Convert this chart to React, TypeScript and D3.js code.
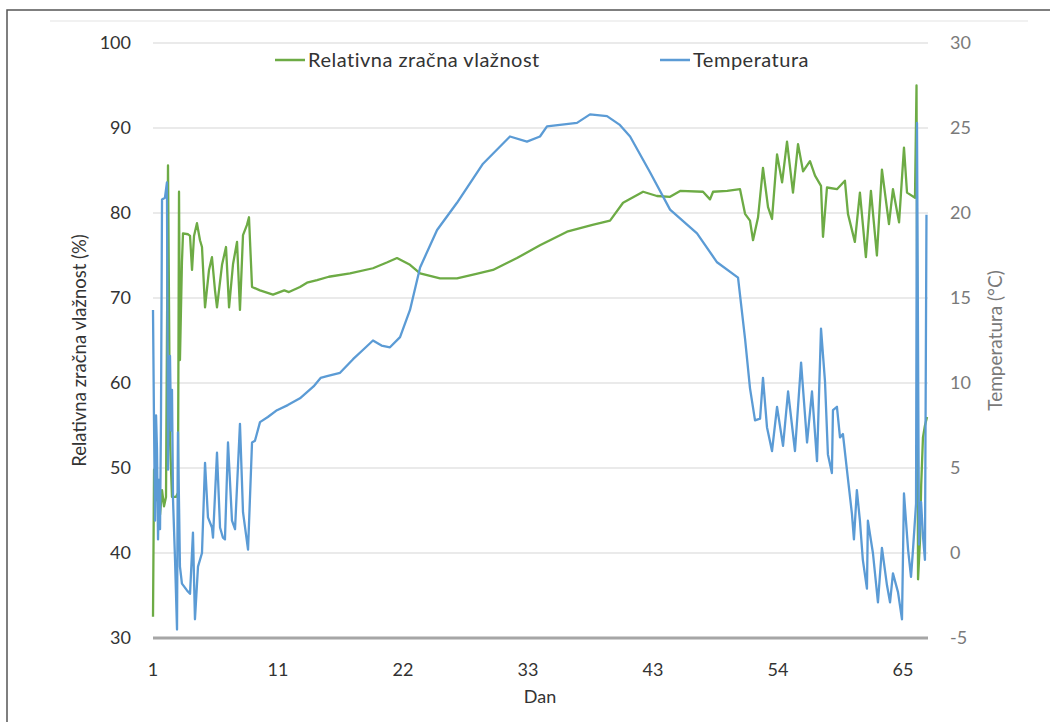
import React from "react";
import * as d3 from "d3";

// relativna vlažnost [dan, %]
const humidity: [number, number][] = [
  [1.0, 32.5], [1.09, 49.8], [1.26, 46.2], [1.43, 48.6], [1.6, 44.5], [1.77, 47.4],
  [1.94, 45.5], [2.11, 46.6], [2.28, 85.6], [2.45, 53.3], [2.62, 46.6], [2.96, 46.6],
  [3.13, 47.1], [3.22, 82.5], [3.3, 62.7], [3.47, 74.2], [3.56, 77.6], [3.99, 77.5],
  [4.16, 77.3], [4.33, 73.3], [4.5, 77.3], [4.75, 78.8], [5.01, 76.8], [5.18, 76.0],
  [5.44, 68.9], [5.78, 73.3], [6.03, 74.8], [6.29, 70.9], [6.46, 68.9], [6.89, 73.9],
  [7.23, 76.0], [7.49, 68.9], [7.83, 74.0], [8.17, 76.6], [8.42, 68.6], [8.68, 77.4],
  [9.02, 78.6], [9.19, 79.5], [9.45, 71.3], [10.13, 70.9], [11.24, 70.4], [12.2, 70.9],
  [12.6, 70.7], [13.54, 71.3], [14.14, 71.8], [15.0, 72.1], [16.0, 72.5], [17.81, 72.9],
  [19.77, 73.5], [21.0, 74.2], [21.82, 74.7], [22.93, 73.9], [23.79, 72.9], [25.49, 72.3],
  [26.94, 72.3], [28.5, 72.8], [30.01, 73.3], [32.06, 74.7], [34.02, 76.2], [36.33, 77.8],
  [38.5, 78.6], [40.0, 79.1], [41.11, 81.2], [42.82, 82.5], [44.0, 82.0], [45.12, 81.9],
  [45.98, 82.6], [47.93, 82.5], [48.53, 81.6], [48.79, 82.5], [50.0, 82.6], [51.09, 82.8],
  [51.52, 79.9], [51.94, 79.1], [52.2, 76.8], [52.63, 79.5], [53.05, 85.3], [53.48, 80.7],
  [53.82, 79.3], [54.25, 86.9], [54.68, 83.6], [55.1, 88.4], [55.61, 82.4], [56.04, 88.1],
  [56.47, 84.9], [57.06, 86.1], [57.49, 84.4], [58.0, 83.2], [58.17, 77.2], [58.51, 83.0],
  [59.36, 82.8], [60.04, 83.8], [60.3, 79.9], [60.89, 76.6], [61.32, 82.4], [61.83, 74.8],
  [62.26, 82.6], [62.77, 75.0], [63.2, 85.1], [63.8, 78.7], [64.14, 82.8], [64.66, 78.9],
  [65.08, 87.7], [65.34, 82.4], [66.02, 81.8], [66.15, 95.0], [66.28, 36.9], [66.45, 41.6],
  [66.55, 48.0], [66.7, 53.6], [66.87, 55.0], [67.05, 56.0],
];

// temperatura [dan, °C]
const temperature: [number, number][] = [
  [1.0, 14.3], [1.085, 7.8], [1.17, 1.9], [1.26, 8.1], [1.34, 6.1], [1.43, 0.8],
  [1.51, 4.3], [1.6, 1.4], [1.68, 7.8], [1.77, 20.8], [2.02, 20.9], [2.19, 21.8],
  [2.28, 4.9], [2.37, 11.4], [2.45, 11.6], [2.54, 7.2], [2.62, 9.6], [2.71, 3.1],
  [2.88, -0.4], [3.05, -4.5], [3.13, 7.1], [3.3, -0.8], [3.47, -1.8], [3.9, -2.2],
  [4.16, -2.4], [4.41, 1.2], [4.58, -3.9], [4.84, -0.8], [5.18, 0.0], [5.44, 5.3],
  [5.69, 2.1], [6.03, 1.5], [6.12, 0.9], [6.46, 5.9], [6.72, 1.5], [6.97, 0.9],
  [7.14, 0.8], [7.4, 6.5], [7.74, 1.9], [8.0, 1.4], [8.42, 7.6], [8.68, 2.4],
  [9.11, 0.2], [9.45, 6.5], [9.7, 6.6], [10.13, 7.7], [10.8, 8.0], [11.58, 8.4],
  [12.5, 8.7], [13.54, 9.1], [14.7, 9.8], [15.3, 10.3], [15.85, 10.4], [16.96, 10.6],
  [18.07, 11.4], [19.0, 12.0], [19.77, 12.5], [20.5, 12.2], [21.22, 12.1], [22.08, 12.7],
  [22.93, 14.3], [23.79, 16.8], [25.24, 19.0], [26.94, 20.6], [29.16, 22.9], [31.46, 24.5],
  [32.91, 24.2], [34.02, 24.5], [34.62, 25.1], [37.18, 25.3], [38.29, 25.8], [39.74, 25.7],
  [40.8, 25.2], [41.71, 24.5], [43.41, 22.4], [45.12, 20.2], [47.42, 18.8], [49.13, 17.1],
  [50.92, 16.2], [51.52, 12.6], [51.94, 9.7], [52.37, 7.8], [52.8, 7.9], [53.05, 10.3],
  [53.39, 7.4], [53.82, 6.0], [54.25, 8.6], [54.76, 6.3], [55.19, 9.5], [55.78, 6.0],
  [56.3, 11.2], [56.81, 6.5], [57.23, 9.5], [57.66, 5.4], [58.0, 13.2], [58.34, 10.1],
  [58.59, 5.8], [58.93, 4.7], [59.02, 8.4], [59.36, 8.6], [59.62, 6.8], [59.87, 7.0],
  [60.21, 4.9], [60.64, 2.3], [60.81, 0.8], [61.06, 3.7], [61.32, 1.9], [61.57, -0.4],
  [61.92, -2.1], [62.0, 1.9], [62.43, 0.0], [62.86, -2.9], [63.2, 0.3], [63.63, -1.9],
  [63.89, -2.9], [64.14, -1.2], [64.57, -2.3], [64.91, -3.9], [65.08, 3.5], [65.43, 0.2],
  [65.68, -1.4], [65.85, 0.2], [66.11, 2.9], [66.19, 25.3], [66.36, 0.5], [66.54, 3.0],
  [66.7, 1.0], [66.87, -0.4], [67.0, 19.9],
];

const xTickLabels = ["1", "11", "22", "33", "43", "54", "65"];
const leftTicks = [30, 40, 50, 60, 70, 80, 90, 100];
const rightTicks = [-5, 0, 5, 10, 15, 20, 25, 30];

const W = 1050;
const H = 722;
const green = "#6dab45";
const blue = "#5b9bd5";
const font = "Lato, 'Open Sans', sans-serif";

export default function App() {
  const x = d3.scaleLinear().domain([1, 67.13]).range([153, 928]);
  const yL = d3.scaleLinear().domain([30, 100]).range([638, 43]);
  const yR = d3.scaleLinear().domain([-5, 30]).range([638, 43]);

  const lineH = d3
    .line<[number, number]>()
    .x((d) => x(d[0]))
    .y((d) => yL(d[1]));
  const lineT = d3
    .line<[number, number]>()
    .x((d) => x(d[0]))
    .y((d) => yR(d[1]));

  const labelStep = 64 / (xTickLabels.length - 1);

  return (
    <svg
      width={W}
      height={H}
      style={{ position: "absolute", left: 0, top: 0, background: "#fff" }}
      fontFamily={font}
    >
      <rect x={7} y={10} width={W + 20} height={H + 20} fill="none" stroke="#555" strokeWidth={1.5} />
      <line x1={50} x2={1028} y1={21} y2={21} stroke="#ececec" strokeWidth={1.5} />

      {leftTicks.slice(1).map((t) => (
        <line key={t} x1={153} x2={928} y1={yL(t)} y2={yL(t)} stroke="#e3e3e3" strokeWidth={1.5} />
      ))}
      <line x1={153} x2={928} y1={yL(30)} y2={yL(30)} stroke="#a6a6a6" strokeWidth={3} />

      {leftTicks.map((t) => (
        <text key={t} x={131} y={yL(t)} dy="0.35em" textAnchor="end" fontSize={18} fill="#333">
          {t}
        </text>
      ))}
      {rightTicks.map((t) => (
        <text key={t} x={950} y={yR(t)} dy="0.35em" textAnchor="start" fontSize={18} fill="#7a7a7a">
          {t}
        </text>
      ))}
      {xTickLabels.map((l, i) => (
        <text key={l} x={x(1 + i * labelStep)} y={670} dy="0.35em" textAnchor="middle" fontSize={18} fill="#333">
          {l}
        </text>
      ))}

      <text x={540} y={697} dy="0.35em" textAnchor="middle" fontSize={18} fill="#333">
        Dan
      </text>
      <text
        transform={`translate(80,${(yL(30) + yL(100)) / 2 + 10}) rotate(-90)`}
        dy="0.35em"
        textAnchor="middle"
        fontSize={18.5}
        fill="#333"
      >
        Relativna zračna vlažnost (%)
      </text>
      <text
        transform={`translate(995,${(yR(-5) + yR(30)) / 2}) rotate(-90)`}
        dy="0.35em"
        textAnchor="middle"
        fontSize={19}
        fill="#7a7a7a"
      >
        Temperatura (°C)
      </text>

      <path d={lineH(humidity) ?? ""} fill="none" stroke={green} strokeWidth={2.3} strokeLinejoin="round" />
      <path d={lineT(temperature) ?? ""} fill="none" stroke={blue} strokeWidth={2.3} strokeLinejoin="round" />

      <g>
        <line x1={275} x2={305} y1={60} y2={60} stroke={green} strokeWidth={2.5} />
        <text x={308} y={60} dy="0.35em" fontSize={20} letterSpacing={0.5} fill="#333">
          Relativna zračna vlažnost
        </text>
        <line x1={660} x2={690} y1={60} y2={60} stroke={blue} strokeWidth={2.5} />
        <text x={693} y={60} dy="0.35em" fontSize={20} letterSpacing={0.5} fill="#333">
          Temperatura
        </text>
      </g>
    </svg>
  );
}
